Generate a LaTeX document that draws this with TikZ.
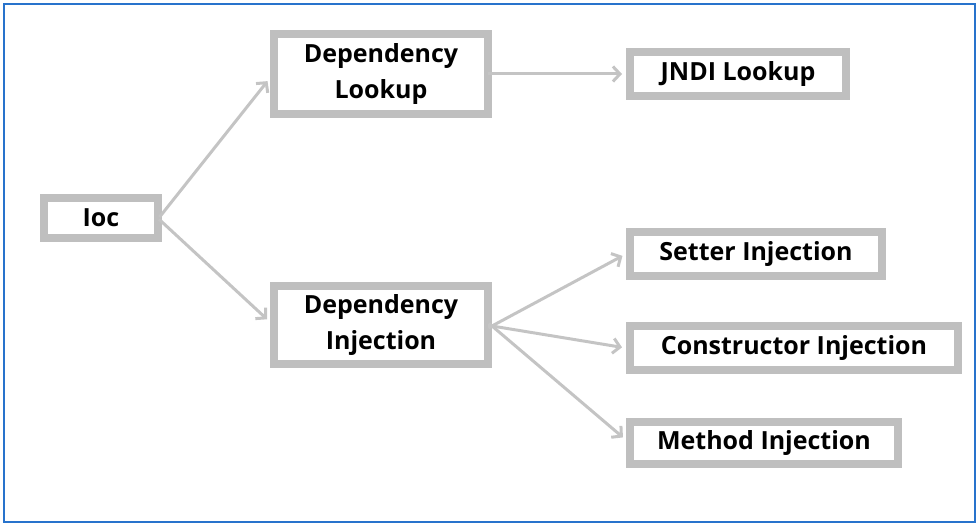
\documentclass[tikz,border=0pt]{standalone}
\usepackage{fontspec}
\setmainfont{Open Sans}
\usetikzlibrary{arrows.meta,shadows}
\definecolor{frameblue}{HTML}{2873CC}
\definecolor{boxgray}{HTML}{BFBFBF}
\definecolor{arrgray}{HTML}{C4C4C4}
\tikzset{
  box/.style={draw=boxgray, line width=8pt, fill=white, inner sep=0pt,
    font=\fontsize{25}{36}\selectfont\bfseries, align=center,
    drop shadow={opacity=0.2, shadow xshift=2.5pt, shadow yshift=-2.5pt}},
  arr/.style={draw=arrgray, line width=3pt, -{Straight Barb[length=7pt,width=15pt,line width=3pt]}}
}
\begin{document}
\begin{tikzpicture}[x=1pt,y=-1pt]
\useasboundingbox (0,0) rectangle (980,526);
\draw[frameblue, line width=2.5pt] (4,4) rectangle (975,522);
\node[box, minimum width=114pt, minimum height=40pt] (ioc) at (101,218) {Ioc};
\node[box, minimum width=214pt, minimum height=80pt] (dl) at (381,74) {Dependency\\Lookup};
\node[box, minimum width=216pt, minimum height=44pt] (jndi) at (738,74) {JNDI Lookup};
\node[box, minimum width=214pt, minimum height=78pt] (di) at (381,325) {Dependency\\Injection};
\node[box, minimum width=252pt, minimum height=44pt] (setter) at (756,254) {Setter Injection};
\node[box, minimum width=328pt, minimum height=44pt] (cons) at (794,348) {Constructor Injection};
\node[box, minimum width=268pt, minimum height=42pt] (meth) at (764,443) {Method Injection};
\draw[arr, shorten <=-4pt, shorten >=4pt] ([yshift=4pt]ioc.east) -- ([yshift=-4pt]dl.west);
\draw[arr, shorten <=-4pt, shorten >=4pt] ([yshift=-4pt]ioc.east) -- ([yshift=3pt]di.west);
\draw[arr, shorten <=-4pt, shorten >=4pt] (dl.east) -- (jndi.west);
\draw[arr, shorten <=-4pt, shorten >=4pt] ([yshift=-1pt]di.east) -- (setter.west);
\draw[arr, shorten <=-4pt, shorten >=4pt] ([yshift=-1pt]di.east) -- (cons.west);
\draw[arr, shorten <=-4pt, shorten >=4pt] ([yshift=-1pt]di.east) -- ([yshift=3pt]meth.west);
\end{tikzpicture}
\end{document}
